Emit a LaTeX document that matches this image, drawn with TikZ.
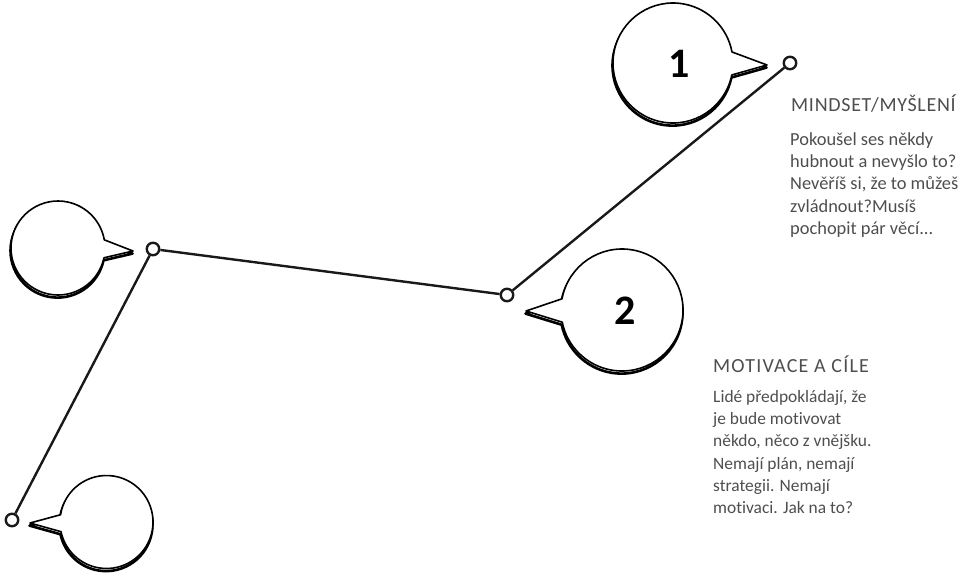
\documentclass[tikz,border=0pt]{standalone}
\usepackage{fontspec}
\setmainfont{Carlito}[Ligatures=NoCommon]
\definecolor{txt}{RGB}{78,78,78}
\definecolor{ink}{RGB}{25,25,25}
\newcommand\mybubble[7]{%
  \draw[bshadow, xshift=-0.5pt, yshift=2.6pt] (#1,#2) ++(#4:#3) arc[start angle=#4, end angle=#5, radius=#3] -- (#6,#7) -- cycle;
  \draw[bubble] (#1,#2) ++(#4:#3) arc[start angle=#4, end angle=#5, radius=#3] -- (#6,#7) -- cycle;
}
\begin{document}
\begin{tikzpicture}[x=1pt,y=1pt,yscale=-1,
  bubble/.style={fill=white, draw=black, line width=1.6pt, line join=round},
  bshadow/.style={draw=black, line width=2.6pt, line join=round},
  dot/.style={circle, draw=ink, line width=2.4pt, minimum size=12.5pt, inner sep=0pt, fill=white},
  link/.style={draw=ink, line width=2.4pt},
  num/.style={font=\fontsize{42}{42}\selectfont\bfseries, text=black, inner sep=0pt},
  head/.style={font=\fontsize{20}{24}\selectfont, text=txt, anchor=base west, inner sep=0pt},
  body/.style={text=txt, anchor=base west, inner sep=0pt}]
\useasboundingbox (0,0) rectangle (960,576);

% speech bubbles
\mybubble{673}{63}{60}{11.5}{349.4}{767}{65}
\mybubble{622}{310}{61}{190.6}{528.5}{526}{311}
\mybubble{58}{248}{47}{12}{350}{133}{251}
\mybubble{106.5}{522}{46.5}{189}{528}{30}{523}

\node[num] (n1) at (679,64) {1};
\node[num] (n2) at (625,311) {2};

% timeline
\node[dot] (p1) at (790,63) {};
\node[dot] (p2) at (507,295) {};
\node[dot] (p3) at (153,249) {};
\node[dot] (p4) at (12,520) {};
\draw[link] (p1) -- (p2);
\draw[link] (p2) -- (p3);
\draw[link] (p3) -- (p4);

% texts
\node[head] (h1) at (791,111) {\addfontfeature{LetterSpace=3.5}MINDSET/MYŠLENÍ};
\node[body] (b1) at (790,145) {\parbox[t]{175pt}{\fontsize{18.4}{22.4}\selectfont\raggedright
Pokoušel ses někdy\\hubnout a nevyšlo to?\\Nevěříš si, že to můžeš\\zvládnout?Musíš\\pochopit pár věcí...}};
\node[head] (h2) at (713,372) {\addfontfeature{LetterSpace=6}MOTIVACE A CÍLE};
\node[body] (b2) at (713,402.5) {\parbox[t]{200pt}{\fontsize{17.4}{22.2}\selectfont\raggedright
Lidé předpokládají, že\\je bude motivovat\\někdo, něco z vnějšku.\\Nemají plán, nemají\\strategii. Nemají\\motivaci. Jak na to?}};
\end{tikzpicture}
\end{document}
